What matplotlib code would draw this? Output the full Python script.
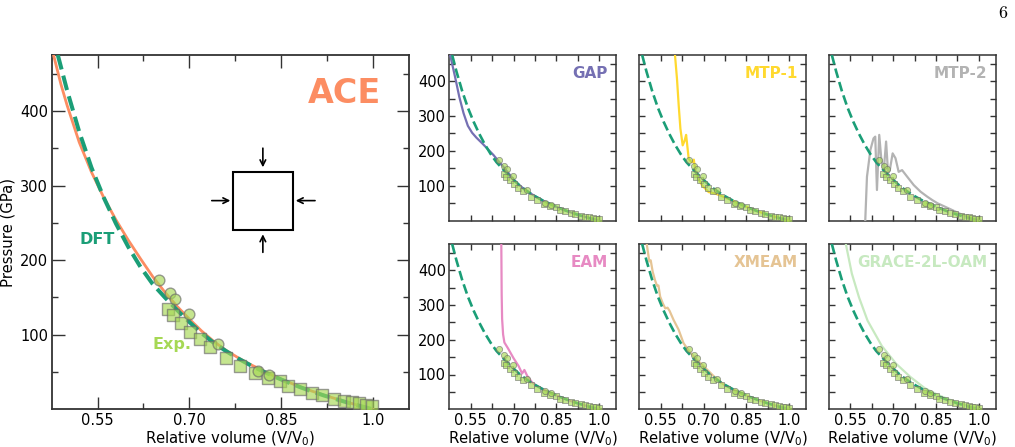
import matplotlib
matplotlib.use("Agg")
from matplotlib import pyplot as plt
from matplotlib.patches import Rectangle
from matplotlib.ticker import FixedLocator

plt.rcParams['font.family'] = 'DejaVu Sans'
plt.rcParams['mathtext.fontset'] = 'dejavusans'

# DFT reference equation of state
dft_v = [0.485, 0.50, 0.52, 0.54, 0.56, 0.58, 0.60, 0.62, 0.64, 0.66, 0.68, 0.70, 0.72, 0.74,
         0.76, 0.78, 0.80, 0.82, 0.84, 0.86, 0.88, 0.90, 0.92, 0.94, 0.96, 0.98, 1.00]
dft_p = [475, 428, 372, 324, 284, 249, 218, 191, 168, 150, 133, 117, 102, 89,
         78, 68, 59, 51, 43.5, 36.5, 30, 24, 18.5, 13.5, 8.7, 4.3, 0]

# ACE
ace_v = [0.478, 0.49, 0.50, 0.52, 0.54, 0.56, 0.58, 0.60, 0.62, 0.64, 0.66, 0.68, 0.70, 0.72,
         0.74, 0.76, 0.78, 0.80, 0.82, 0.84, 0.86, 0.88, 0.90, 0.92, 0.94, 0.96, 0.98, 1.00]
ace_p = [475, 436, 408, 358, 318, 284, 254, 227, 202, 178, 157, 138, 121, 105,
         91, 79, 69, 60, 52, 44, 37, 30.5, 24.5, 19, 14, 9, 4.5, 0]

# experiments
exp_circ_v = [0.650, 0.668, 0.677, 0.699, 0.747, 0.812, 0.830]
exp_circ_p = [174, 156, 148, 128, 88, 52, 46]
exp_sq_v = [0.665, 0.673, 0.687, 0.701, 0.717, 0.734, 0.760, 0.782, 0.8075, 0.829, 0.8485,
            0.862, 0.881, 0.900, 0.917, 0.936, 0.952, 0.966, 0.977, 0.988, 0.999]
exp_sq_p = [134, 126, 116, 104, 94, 84, 69, 58, 48, 42, 38,
            31, 27, 22, 19, 14, 11, 9.5, 8, 6, 4]

# other potentials
gap_v = [0.478, 0.495, 0.51, 0.525, 0.54, 0.555, 0.57, 0.59, 0.61, 0.63, 0.65, 0.67, 0.70,
         0.72, 0.74, 0.76, 0.78, 0.80, 0.82, 0.84, 0.86, 0.88, 0.90, 0.92, 0.94, 0.96, 0.98, 1.00]
gap_p = [475, 413, 355, 308, 272, 252, 238, 222, 205, 188, 168, 149, 118,
         102, 89, 78, 68, 59, 51, 43.5, 36.5, 30, 24, 18.5, 13.5, 8.7, 4.3, 0]

mtp1_v = [0.600, 0.607, 0.613, 0.619, 0.627, 0.634, 0.639, 0.643, 0.648, 0.655, 0.660, 0.666,
          0.672, 0.683, 0.695, 0.718, 0.74, 0.76, 0.78, 0.80, 0.82, 0.84, 0.86, 0.88, 0.90,
          0.92, 0.94, 0.96, 0.98, 1.00]
mtp1_p = [475, 407, 331, 264, 216, 230, 246, 216, 178, 170, 168, 175,
          140, 120, 101, 82, 78, 72, 65, 58, 51, 43.5, 36.5, 30, 24,
          18.5, 13.5, 8.7, 4.3, 0]

mtp2_v = [0.601, 0.602, 0.608, 0.620, 0.631, 0.637, 0.643, 0.651, 0.6585, 0.667, 0.675, 0.682,
          0.688, 0.698, 0.708, 0.719, 0.731, 0.749, 0.772, 0.796, 0.819, 0.837, 0.855, 0.895,
          0.931, 0.96, 0.98, 1.00]
mtp2_p = [-20, 0, 126, 203, 236, 241, 88, 246, 174, 145, 227, 136,
          145, 193, 179, 140, 145, 126, 102, 83, 69, 59, 50, 35,
          21, 11, 5, 0]

eam_v = [0.6572, 0.6585, 0.660, 0.6635, 0.668, 0.68, 0.70, 0.718, 0.73, 0.738, 0.748, 0.7655,
         0.78, 0.80, 0.82, 0.84, 0.86, 0.88, 0.90, 0.92, 0.94, 0.96, 0.98, 1.00]
eam_p = [475, 330, 260, 215, 192, 176, 147, 124, 103, 113, 96, 77,
         68, 59, 51, 43.5, 36.5, 30, 24, 18.5, 13.5, 8.7, 4.3, 0]

xmeam_v = [0.501, 0.510, 0.515, 0.522, 0.530, 0.537, 0.542, 0.548, 0.557, 0.566, 0.574, 0.581,
           0.595, 0.6126, 0.630, 0.654, 0.68, 0.70, 0.736, 0.771, 0.80, 0.82, 0.84, 0.86, 0.88,
           0.90, 0.92, 0.94, 0.96, 0.98, 1.00]
xmeam_p = [475, 425, 428, 395, 371, 355, 356, 324, 305, 290, 292, 283,
           257, 229, 190, 162, 140, 124, 95, 71, 59, 51, 43.5, 36.5, 30,
           24, 18.5, 13.5, 8.7, 4.3, 0]

grace_v = [0.534, 0.555, 0.58, 0.61, 0.66, 0.71, 0.76, 0.81, 0.86, 0.90, 0.95, 1.00]
grace_p = [475, 390, 322, 255, 182, 131, 93, 61, 40, 27, 13, 0]

xtick_major = [0.55, 0.70, 0.85, 1.0]
xtick_labels = ['0.55', '0.70', '0.85', '1.0']
xtick_minor = [0.625, 0.775, 0.925]
ytick_major = [100, 200, 300, 400]
ytick_minor = [50, 150, 250, 350, 450]

c_dft = '#1b9e77'
c_exp = '#a6d854'

W, H = 1015, 447


def px_axes(fig, x0, y0, x1, y1):
    return fig.add_axes([x0 / W, 1 - y1 / H, (x1 - x0) / W, (y1 - y0) / H])


def style_axes(ax, big, xlabels, ylabels):
    ax.set_xlim(0.475, 1.059)
    ax.set_ylim(0, 475)
    ax.xaxis.set_major_locator(FixedLocator(xtick_major))
    ax.xaxis.set_minor_locator(FixedLocator(xtick_minor))
    ax.yaxis.set_major_locator(FixedLocator(ytick_major))
    ax.yaxis.set_minor_locator(FixedLocator(ytick_minor))
    if xlabels:
        ax.set_xticklabels(xtick_labels)
        ax.set_xlabel('Relative volume (V/V$_0$)', fontsize=10.7, labelpad=1.5)
    else:
        ax.set_xticklabels([])
    if not ylabels:
        ax.set_yticklabels([])
    maj = 9 if big else 4.5
    mnr = 4.5
    ax.tick_params(which='both', direction='in', top=True, right=True,
                   color='#333333', labelsize=10.5, pad=2.5)
    ax.tick_params(which='major', length=maj, width=1.0)
    ax.tick_params(which='minor', length=mnr, width=1.0)
    for s in ax.spines.values():
        s.set_color('#333333')
        s.set_linewidth(1.3 if big else 1.1)


def draw_exp(ax, s, lw):
    ax.scatter(exp_sq_v, exp_sq_p, s=s * 1.25, marker='s', color=c_exp, edgecolors='#6a6a6a',
               linewidths=lw, alpha=0.65, zorder=5)
    ax.scatter(exp_circ_v, exp_circ_p, s=s, marker='o', color=c_exp, edgecolors='#6a6a6a',
               linewidths=lw, alpha=0.65, zorder=5)


fig = plt.figure(figsize=(W / 100, H / 100), dpi=100)

# big ACE panel
ax = px_axes(fig, 51.7, 55, 409, 409.3)
ax.plot(ace_v, ace_p, color='#fc8d62', lw=2.0, zorder=3)
ax.plot(dft_v, dft_p, color=c_dft, lw=2.9, ls='--', zorder=4)
draw_exp(ax, 60, 1.0)
style_axes(ax, True, True, True)
ax.set_ylabel('Pressure (GPa)', fontsize=10.7, labelpad=3)
ax.text(0.923, 0.892, 'ACE', transform=ax.transAxes, ha='right', va='center',
        fontsize=24, fontweight='bold', color='#fc8d62')
ax.text(0.5203, 228, 'DFT', ha='left', va='center', fontsize=11.5,
        fontweight='bold', color=c_dft)
ax.text(0.6395, 87, 'Exp.', ha='left', va='center', fontsize=11.5,
        fontweight='bold', color=c_exp)
ax.add_patch(Rectangle((0.508, 0.506), 0.166, 0.165, transform=ax.transAxes,
                       fill=False, ec='black', lw=1.5, zorder=6))
arrows = [((0.591, 0.737), (0.591, 0.683)),
          ((0.591, 0.443), (0.591, 0.494)),
          ((0.448, 0.589), (0.500, 0.589)),
          ((0.737, 0.589), (0.683, 0.589))]
for tail, head in arrows:
    ax.annotate('', xy=head, xytext=tail, xycoords='axes fraction',
                arrowprops=dict(arrowstyle='->', color='black', lw=1.2,
                                shrinkA=0, shrinkB=0))

# small panels
panels = [
    ('GAP', '#7570b3', gap_v, gap_p, 0, 0),
    ('MTP-1', '#ffd92f', mtp1_v, mtp1_p, 0, 1),
    ('MTP-2', '#b3b3b3', mtp2_v, mtp2_p, 0, 2),
    ('EAM', '#e78ac3', eam_v, eam_p, 1, 0),
    ('XMEAM', '#e5c494', xmeam_v, xmeam_p, 1, 1),
    ('GRACE-2L-OAM', '#c7e9c0', grace_v, grace_p, 1, 2),
]
col_x = [449.3, 639.3, 829.0]
row_y = [(55, 220.7), (244, 409.3)]
for name, color, v, p, r, c in panels:
    x0 = col_x[c]
    y0, y1 = row_y[r]
    a = px_axes(fig, x0, y0, x0 + 166.7, y1)
    a.plot(v, p, color=color, lw=1.6, zorder=3)
    a.plot(dft_v, dft_p, color=c_dft, lw=1.9, ls='--', zorder=4)
    draw_exp(a, 20, 0.6)
    style_axes(a, False, r == 1, c == 0)
    a.text(0.95, 0.89, name, transform=a.transAxes, ha='right', va='center',
           fontsize=11, fontweight='bold', color=color)

fig.text(0.988, 0.97, r'$6$', ha='center', va='center', fontsize=13, math_fontfamily='cm')

fig.savefig('out.png', dpi=100)
